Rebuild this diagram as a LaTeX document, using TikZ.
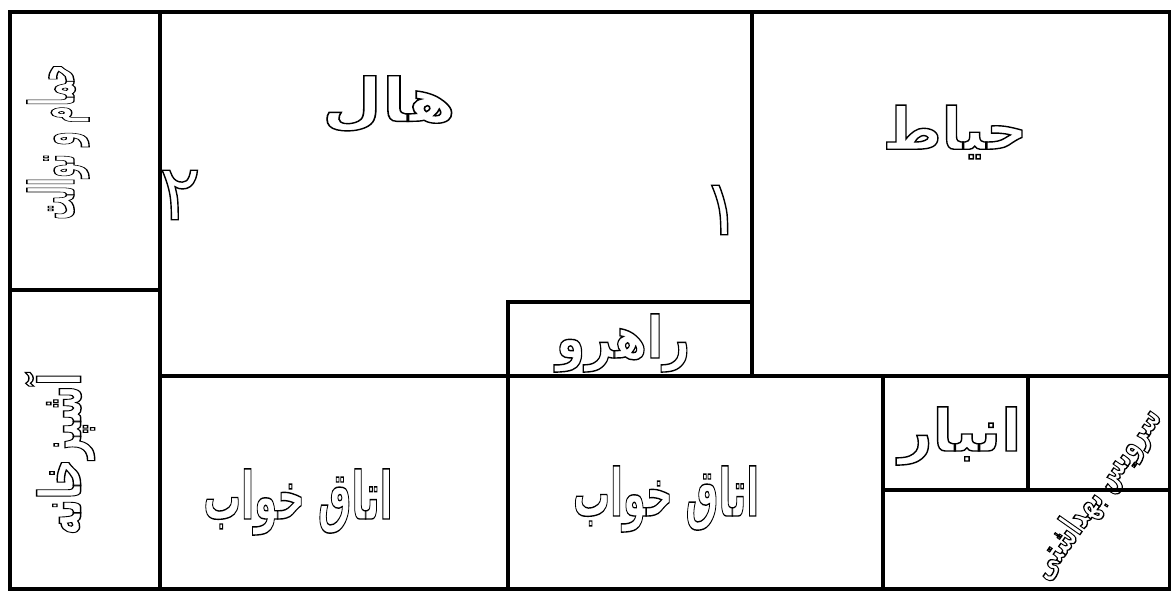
\documentclass[tikz,border=0pt]{standalone}
\usepackage{fontspec}
\newfontfamily\arabicfont[Script=Arabic]{DejaVu Sans}
\TeXXeTstate=1
\newcommand\outlinetext[1]{\special{pdf:literal 1 Tr 1.4 w}#1\special{pdf:literal 0 Tr}}
\begin{document}
\begin{tikzpicture}[x=1pt,y=-1pt,
  wall/.style={line width=3.5pt, line cap=rect},
  lbl/.style={inner sep=0pt, font=\arabicfont\bfseries\fontsize{#1}{#1}\selectfont},
  lbl/.default=58,
  digit/.style={inner sep=0pt, font=\arabicfont\fontsize{78}{90}\selectfont}]
\useasboundingbox (0,0) rectangle (1171,590);
\draw[wall] (10,12) rectangle (1170,589);
\draw[wall] (160,12) -- (160,589);
\draw[wall] (10,290) -- (160,290);
\draw[wall] (752,12) -- (752,376);
\draw[wall] (160,376) -- (1170,376);
\draw[wall] (508,302) -- (752,302);
\draw[wall] (508,302) -- (508,589);
\draw[wall] (883,376) -- (883,589);
\draw[wall] (1028,376) -- (1028,490);
\draw[wall] (883,490) -- (1170,490);
\node[lbl=60, xscale=1.15] (hall) at (389,104) {\outlinetext{\beginR هال\endR}};
\node[digit] (two) at (180,195) {\outlinetext{\beginR ۲\endR}};
\node[digit] (one) at (722,210) {\outlinetext{\beginR ۱\endR}};
\node[lbl, xscale=0.98] (yard) at (955,132) {\outlinetext{\beginR حیاط\endR}};
\node[lbl, xscale=0.81] (corr) at (623,343) {\outlinetext{\beginR راهرو\endR}};
\node[lbl=66, xscale=0.57] (bed1) at (298,502) {\outlinetext{\beginR اتاق خواب\endR}};
\node[lbl=66, xscale=0.56] (bed2) at (666,499) {\outlinetext{\beginR اتاق خواب\endR}};
\node[lbl, xscale=1.02] (store) at (960,436) {\outlinetext{\beginR انبار\endR}};
\node[lbl=62, rotate=90, xscale=0.38] (bath) at (58,142) {\outlinetext{\beginR حمام و توالت\endR}};
\node[lbl, rotate=90, xscale=0.63] (kitchen) at (60,454) {\outlinetext{\beginR آشپزخانه\endR}};
\node[lbl=36, rotate=55, xscale=0.64] (wc) at (1097,494) {\outlinetext{\beginR سرویس بهداشتی\endR}};
\end{tikzpicture}
\end{document}
